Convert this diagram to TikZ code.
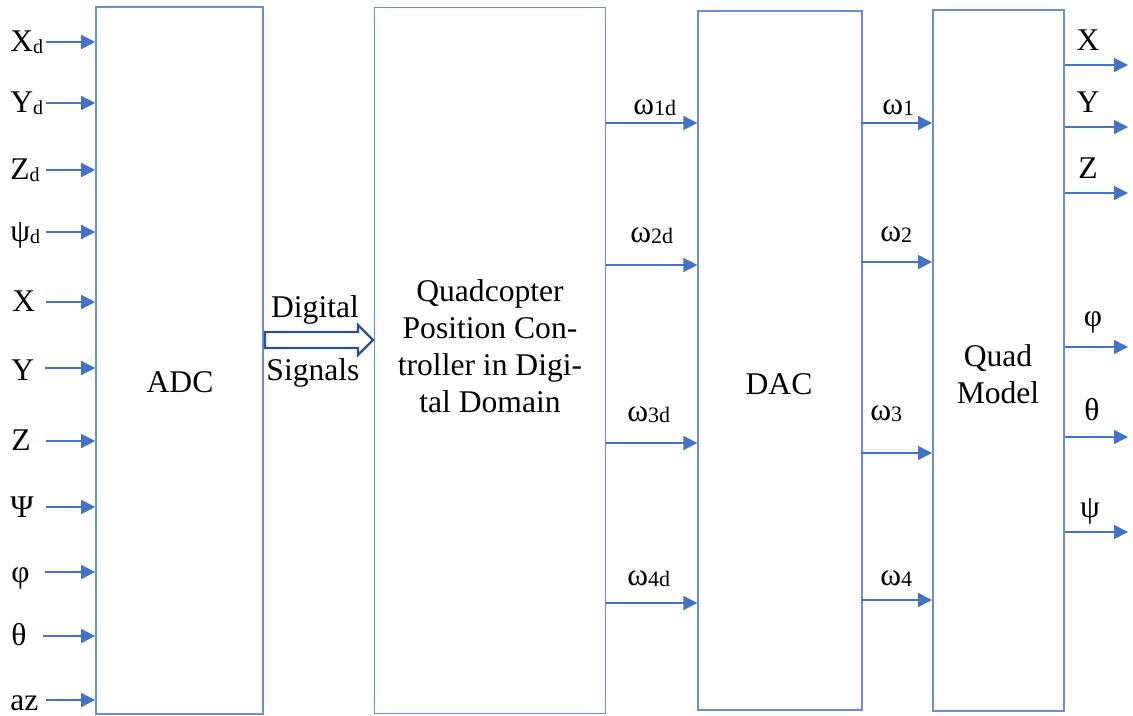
\documentclass[tikz,border=0pt]{standalone}
\usepackage{fontspec}
\setmainfont{Liberation Serif}
\usepackage{tikz}
\usetikzlibrary{arrows.meta, positioning, calc}
\definecolor{sigblue}{HTML}{4472C4}
\definecolor{boxblue}{HTML}{6A8FD6}
\definecolor{hollowblue}{HTML}{2F528F}

\newcommand{\insub}[1]{\raisebox{-1pt}{\fontsize{10}{10}\selectfont #1}}
\newcommand{\wsub}[1]{\raisebox{-0.5pt}{\fontsize{11}{11}\selectfont #1}}

\tikzset{
  blockbox/.style={draw=boxblue, line width=0.8pt, inner sep=0pt, minimum width=#1},
  sigarrow/.style={-{Triangle[length=7pt,width=7pt]}, sigblue, line width=0.75pt},
  lbl/.style={inner sep=0pt},
}

\begin{document}
\begin{tikzpicture}[x=0.5pt, y=-0.5pt, font=\fontsize{15.8}{18.5}\selectfont]
\useasboundingbox (0,0) rectangle (1133,716);

% blocks
\node[blockbox=83.5pt, minimum height=353.5pt] (adc) at (179.5,360.5) {};
\node[blockbox=115.5pt, minimum height=353pt, right=55pt of adc] (ctrl) {};
\node[blockbox=82pt, minimum height=349.5pt, right=45.5pt of ctrl] (dac) {};
\node[blockbox=65.5pt, minimum height=350.5pt, right=34.5pt of dac] (quad) {};

\node[lbl] (adctxt) at (180,382) {ADC};
\node[lbl, align=center] (ctrltxt) at (490,346) {Quadcopter\\Position Con-\\troller in Digi-\\tal Domain};
\node[lbl] (dactxt) at (779,384) {DAC};
\node[lbl, align=center] (quadtxt) at (998,374) {Quad\\Model};

% inputs to ADC
\node[lbl, anchor=base west] (l-xd) at (10,52) {X\insub{d}};
\node[lbl, anchor=base west] (l-yd) at (10,113) {Y\insub{d}};
\node[lbl, anchor=base west] (l-zd) at (10,180) {Z\insub{d}};
\node[lbl, anchor=base west] (l-psid) at (10,242) {ψ\insub{d}};
\node[lbl, anchor=base west] (l-x) at (12,312) {X};
\node[lbl, anchor=base west] (l-y) at (11,380) {Y};
\node[lbl, anchor=base west] (l-z) at (11,450) {Z};
\node[lbl, anchor=base west] (l-psi) at (10,517) {Ψ};
\node[lbl, anchor=base west] (l-phi) at (11,582) {φ};
\node[lbl, anchor=base west] (l-theta) at (11,645) {θ};
\node[lbl, anchor=base west] (l-az) at (10,710) {az};

\coordinate (s-xd) at (46,42);
\coordinate (s-yd) at (46,103);
\coordinate (s-zd) at (46,170);
\coordinate (s-psid) at (46,232);
\coordinate (s-x) at (46,302);
\coordinate (s-y) at (45,368);
\coordinate (s-z) at (46,441);
\coordinate (s-psi) at (46,507);
\coordinate (s-phi) at (45,572);
\coordinate (s-theta) at (43,636);
\coordinate (s-az) at (46,700);
\draw[sigarrow] (s-xd) -- (s-xd -| adc.west);
\draw[sigarrow] (s-yd) -- (s-yd -| adc.west);
\draw[sigarrow] (s-zd) -- (s-zd -| adc.west);
\draw[sigarrow] (s-psid) -- (s-psid -| adc.west);
\draw[sigarrow] (s-x) -- (s-x -| adc.west);
\draw[sigarrow] (s-y) -- (s-y -| adc.west);
\draw[sigarrow] (s-z) -- (s-z -| adc.west);
\draw[sigarrow] (s-psi) -- (s-psi -| adc.west);
\draw[sigarrow] (s-phi) -- (s-phi -| adc.west);
\draw[sigarrow] (s-theta) -- (s-theta -| adc.west);
\draw[sigarrow] (s-az) -- (s-az -| adc.west);

% hollow arrow ADC -> controller
\coordinate (ds) at (265,340);
\coordinate (de) at (373,340);
\draw[hollowblue, line width=1.2pt, fill=white, line join=miter]
  ($(ds)+(0,-8)$) -- ($(de)+(-15,-8)$) -- ($(de)+(-15,-15)$) -- (de)
  -- ($(de)+(-15,15)$) -- ($(de)+(-15,8)$) -- ($(ds)+(0,8)$) -- cycle;
\node[lbl, anchor=base] (digtxt) at (315,317) {Digital};
\node[lbl, anchor=base] (sigtxt) at (313,380) {Signals};

% controller -> DAC
\coordinate (c1) at (606,123);
\coordinate (c2) at (606,265);
\coordinate (c3) at (606,443);
\coordinate (c4) at (606,603);
\draw[sigarrow] (c1) -- (c1 -| dac.west);
\draw[sigarrow] (c2) -- (c2 -| dac.west);
\draw[sigarrow] (c3) -- (c3 -| dac.west);
\draw[sigarrow] (c4) -- (c4 -| dac.west);
\node[lbl, anchor=base west] (w1d) at (633,115) {ω\wsub{1d}};
\node[lbl, anchor=base west] (w2d) at (630,243) {ω\wsub{2d}};
\node[lbl, anchor=base west] (w3d) at (627,421) {ω\wsub{3d}};
\node[lbl, anchor=base west] (w4d) at (627,585) {ω\wsub{4d}};

% DAC -> quad model
\coordinate (d1) at (861,123);
\coordinate (d2) at (861,262);
\coordinate (d3) at (861,453);
\coordinate (d4) at (861,600);
\draw[sigarrow] (d1) -- (d1 -| quad.west);
\draw[sigarrow] (d2) -- (d2 -| quad.west);
\draw[sigarrow] (d3) -- (d3 -| quad.west);
\draw[sigarrow] (d4) -- (d4 -| quad.west);
\node[lbl, anchor=base west] (w1) at (882,115) {ω\wsub{1}};
\node[lbl, anchor=base west] (w2) at (880,242) {ω\wsub{2}};
\node[lbl, anchor=base west] (w3) at (870,420) {ω\wsub{3}};
\node[lbl, anchor=base west] (w4) at (880,585) {ω\wsub{4}};

% quad model outputs
\coordinate (o-x) at (1128,65);
\coordinate (o-y) at (1128,127);
\coordinate (o-z) at (1128,193);
\coordinate (o-phi) at (1128,347);
\coordinate (o-theta) at (1128,437);
\coordinate (o-psi) at (1128,532);
\draw[sigarrow] (o-x -| quad.east) -- (o-x);
\draw[sigarrow] (o-y -| quad.east) -- (o-y);
\draw[sigarrow] (o-z -| quad.east) -- (o-z);
\draw[sigarrow] (o-phi -| quad.east) -- (o-phi);
\draw[sigarrow] (o-theta -| quad.east) -- (o-theta);
\draw[sigarrow] (o-psi -| quad.east) -- (o-psi);
\node[lbl, anchor=base] (t-x) at (1088,51) {X};
\node[lbl, anchor=base] (t-y) at (1088,113) {Y};
\node[lbl, anchor=base] (t-z) at (1088,179) {Z};
\node[lbl, anchor=base] (t-phi) at (1093,327) {φ};
\node[lbl, anchor=base] (t-theta) at (1092,420) {θ};
\node[lbl, anchor=base] (t-psi) at (1090,517) {ψ};
\end{tikzpicture}
\end{document}
